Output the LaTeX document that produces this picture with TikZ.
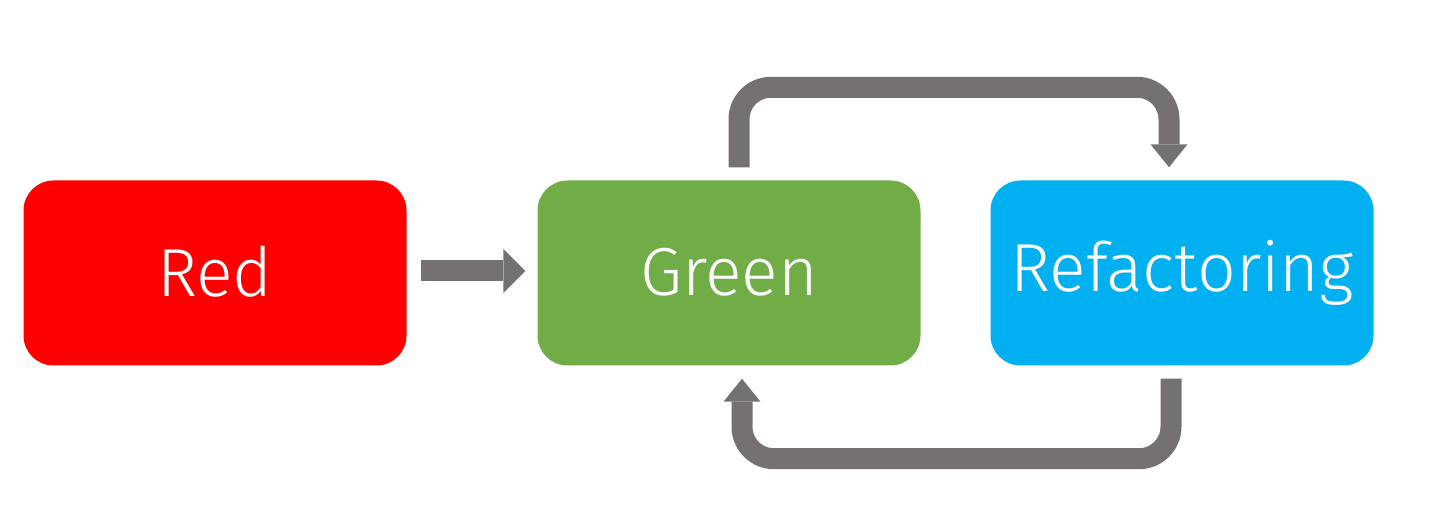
\documentclass[tikz,border=0pt]{standalone}
\usepackage{fontspec}
\setmainfont{Fira Sans Light}
\usepackage{tikz}
\usetikzlibrary{arrows.meta}
\usetikzlibrary{calc}

\definecolor{boxred}{HTML}{FF0000}
\definecolor{boxgreen}{HTML}{70AD47}
\definecolor{boxblue}{HTML}{00B0F0}
\definecolor{arrowgray}{HTML}{767171}

\begin{document}
\begin{tikzpicture} [
    x=1pt, y=1pt,
    every node/.style = {rectangle, rounded corners=30pt, minimum width=383pt, minimum height=185pt, text=white, font=\fontsize{68}{68}\selectfont, inner sep=0pt},
    flow/.style = {draw=arrowgray, line width=21pt, rounded corners=32pt, -{Triangle[width=37pt, length=23pt, line width=0pt]}}
]
    \useasboundingbox (0,0) rectangle (1433,506);

    \node [fill=boxred] (red) at (215,233) {\raisebox{3pt}{Red}};
    \node [fill=boxgreen] (green) at (729,233) {\raisebox{3pt}{Green}};
    \node [fill=boxblue] (refac) at (1182,233) {\raisebox{3pt}{Refactoring}};

    \draw[flow, -{Triangle[width=44pt, length=22pt, line width=0pt]}] ([shift={(14pt,2pt)}]red.east) -- ([shift={(-12pt,2pt)}]green.west);
    \draw[flow] ([shift={(10pt,13pt)}]green.north) -- ++(0,80) -| ([shift={(-13pt,13pt)}]refac.north);
    \draw[flow] ([shift={(-11pt,-13pt)}]refac.south) -- ++(0,-80) -| ([shift={(13pt,-13pt)}]green.south);
\end{tikzpicture}
\end{document}
